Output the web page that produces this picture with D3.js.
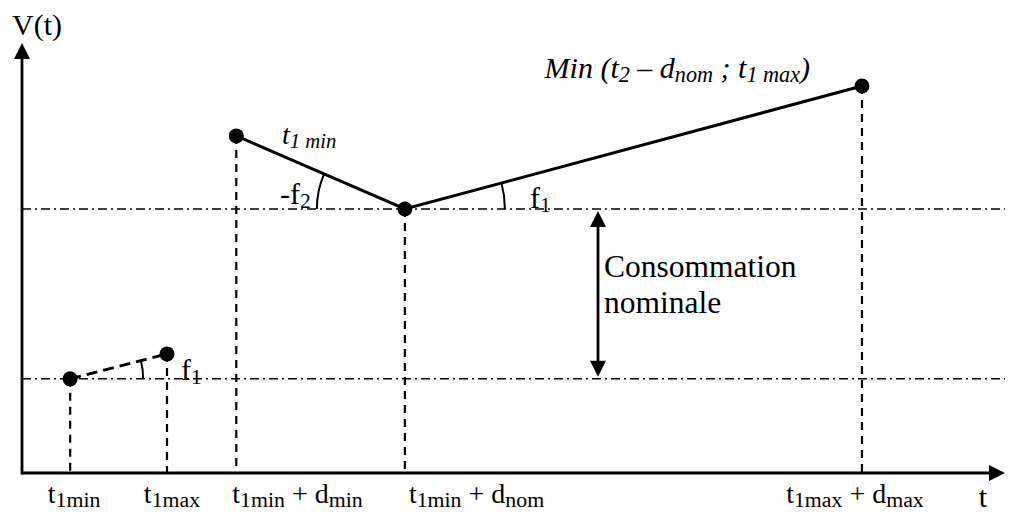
<!DOCTYPE html>
<html>
<head>
<meta charset="utf-8">
<script src="https://cdn.jsdelivr.net/npm/d3@7"></script>
<style>
  body { margin: 0; background: #fff; }
</style>
</head>
<body>
<div id="chart"></div>
<script>
// abstract time / volume positions of the five key points
const pointT = [4.9, 14.75, 21.8, 38.95, 85.45]
const pointV = [21.9, 27.7, 78.4, 61.4, 90]
// the two reference levels (dash-dot lines)
const levels = [21.9, 61.4]
// tick labels under the time axis, one per point
const tickLabels = [
  [['t'], ['1min', 'sub']],
  [['t'], ['1max', 'sub']],
  [['t'], ['1min', 'sub'], [' + d'], ['min', 'sub']],
  [['t'], ['1min', 'sub'], [' + d'], ['nom', 'sub']],
  [['t'], ['1max', 'sub'], [' + d'], ['max', 'sub']]
]

const WIDTH = 1012
const HEIGHT = 519
const SERIF = 'Liberation Serif'

const x = d3.scaleLinear().domain([0, 100]).range([22, 1005])
const y = d3.scaleLinear().domain([0, 100]).range([473, 43])

const svg = d3.select('#chart')
  .append('svg')
    .attr('width', WIDTH)
    .attr('height', HEIGHT)

// text with subscripts
const richText = (g, parts, px, py, size, opts = {}) => {
  const t = g.append('text')
    .attr('x', px)
    .attr('y', py)
    .attr('font-family', SERIF)
    .attr('font-size', size)
    .attr('text-anchor', opts.anchor || 'start')
    .attr('font-style', opts.italic ? 'italic' : 'normal')
    .attr('fill', '#000')
    .attr('xml:space', 'preserve')
  parts.forEach(([s, kind]) => {
    const sp = t.append('tspan').text(s)
    if (kind === 'sub') {
      sp.attr('font-size', size * (opts.sub || 0.72)).attr('baseline-shift', '-20%')
    }
  })
  return t
}

const pts = pointT.map((t, i) => ({ x: x(t), y: y(pointV[i]) }))

// dash-dot reference levels
svg.append('g')
  .selectAll('line')
  .data(levels)
  .join('line')
    .attr('x1', x(0))
    .attr('x2', x(100))
    .attr('y1', d => y(d))
    .attr('y2', d => y(d))
    .attr('stroke', '#000')
    .attr('stroke-width', 1.5)
    .attr('stroke-dasharray', '9,4,2,4')

// dashed drops to the time axis
svg.append('g')
  .selectAll('line')
  .data(pts)
  .join('line')
    .attr('x1', d => d.x)
    .attr('x2', d => d.x)
    .attr('y1', d => d.y)
    .attr('y2', y(0))
    .attr('stroke', '#000')
    .attr('stroke-width', 2.2)
    .attr('stroke-dasharray', '8,6')

// dashed segment between the first two points
svg.append('line')
  .attr('x1', pts[0].x).attr('y1', pts[0].y)
  .attr('x2', pts[1].x).attr('y2', pts[1].y)
  .attr('stroke', '#000')
  .attr('stroke-width', 3)
  .attr('stroke-dasharray', '11,6')

// solid broken line through the last three points
svg.append('path')
  .datum(pts.slice(2))
  .attr('d', d3.line().x(d => d.x).y(d => d.y))
  .attr('fill', 'none')
  .attr('stroke', '#000')
  .attr('stroke-width', 3)

// axes with arrow heads
const axes = svg.append('g').attr('stroke', '#000').attr('stroke-width', 2.8)
axes.append('line').attr('x1', x(0)).attr('y1', y(0) + 1.4).attr('x2', x(0)).attr('y2', y(100) + 12)
axes.append('line').attr('x1', x(0)).attr('y1', y(0)).attr('x2', x(100) - 12).attr('y2', y(0))

const arrowHead = (tx, ty, dir) => {
  const L = 16, W = 8
  let p
  if (dir === 'up') p = [[tx, ty], [tx - W, ty + L], [tx + W, ty + L]]
  if (dir === 'down') p = [[tx, ty], [tx - W, ty - L], [tx + W, ty - L]]
  if (dir === 'right') p = [[tx, ty], [tx - L, ty - W], [tx - L, ty + W]]
  svg.append('path').attr('d', 'M' + p.join('L') + 'Z').attr('fill', '#000')
}
arrowHead(x(0), y(100), 'up')
arrowHead(x(100), y(0), 'right')

// double arrow "consommation nominale"
const ax = 598
svg.append('line')
  .attr('x1', ax).attr('x2', ax)
  .attr('y1', y(levels[1]) + 10).attr('y2', y(levels[0]) - 10)
  .attr('stroke', '#000').attr('stroke-width', 2.8)
arrowHead(ax, y(levels[1]) + 2, 'up')
arrowHead(ax, y(levels[0]) - 2, 'down')

// angle arcs
const angleArc = (c, r, a0, a1, ccw) => {
  const p = d3.path()
  p.arc(c.x, c.y, r, a0, a1, ccw)
  svg.append('path').attr('d', p.toString())
    .attr('fill', 'none').attr('stroke', '#000').attr('stroke-width', 2)
}
const ang = (a, b) => Math.atan2(b.y - a.y, b.x - a.x)
angleArc(pts[3], 100, 0, ang(pts[3], pts[4]), true)
angleArc(pts[3], 88, Math.PI, ang(pts[3], pts[2]) + 2 * Math.PI, false)
angleArc(pts[0], 73, 0, ang(pts[0], pts[1]), true)

// points
svg.append('g')
  .selectAll('circle')
  .data(pts)
  .join('circle')
    .attr('cx', d => d.x)
    .attr('cy', d => d.y)
    .attr('r', 7.5)
    .attr('fill', '#000')

// texts
richText(svg, [['V(t)']], 12, 35, 30)
const anchors = ['middle', 'middle', 'start', 'start', 'middle']
const shifts = [4, 5, -4, 4, -7]
tickLabels.forEach((parts, i) => {
  richText(svg, parts, pts[i].x + shifts[i], 503, 28, { anchor: anchors[i], sub: 0.78 })
})
richText(svg, [['t']], 983, 507, 30, { anchor: 'middle' })

richText(svg, [['Consommation']], 604, 277, 31.5)
richText(svg, [['nominale']], 604, 313, 31.5)

richText(svg, [['t'], ['1 min', 'sub']], 282, 144, 28, { italic: true, sub: 0.74 })
richText(svg, [['Min (t'], ['2', 'sub'], [' – d'], ['nom', 'sub'], [' ; t'], ['1 max', 'sub'], [')']], 810, 78, 30, { anchor: 'end', italic: true, sub: 0.74 })
richText(svg, [['-f'], ['2', 'sub']], 280, 204, 30)
richText(svg, [['f'], ['1', 'sub']], 530, 208, 30)
richText(svg, [['f'], ['1', 'sub']], 181, 380, 30)
</script>
</body>
</html>
